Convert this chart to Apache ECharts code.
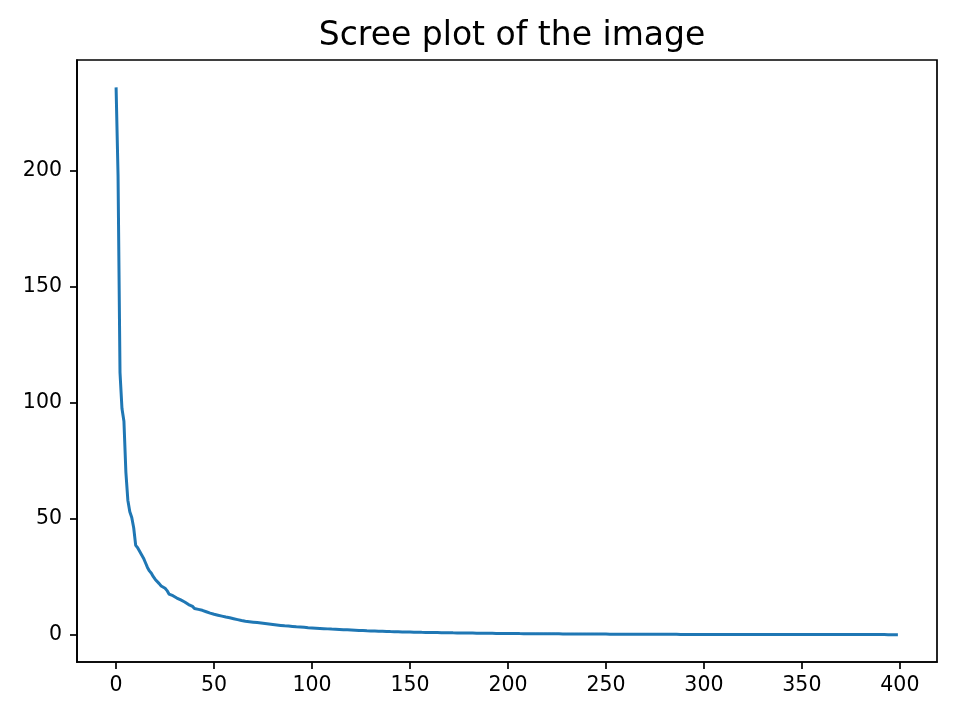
<!DOCTYPE html>
<html>
<head>
<meta charset="utf-8">
<script src="https://cdn.jsdelivr.net/npm/echarts@6/dist/echarts.min.js"></script>
<style>html,body{margin:0;padding:0;background:#fff}#c{width:960px;height:720px}</style>
</head>
<body>
<div id="c"></div>
<script>
const titleText = "Scree plot of the image";
const xTicks = [0, 50, 100, 150, 200, 250, 300, 350, 400];
const yTicks = [0, 50, 100, 150, 200];
const singularValues = [
236, 198, 113, 97.5, 92, 70, 58, 53, 50.5, 46,
38.5, 37.5, 36, 34.5, 33, 31, 29, 27.5, 26.5, 25,
23.8, 23, 22, 21, 20.5, 20, 19, 17.5, 17.2, 16.8,
16.2, 15.8, 15.4, 15, 14.6, 14.1, 13.6, 13, 12.6, 12.2,
11.3, 11.1, 10.9, 10.7, 10.5, 10.2, 9.9, 9.6, 9.3, 9.0,
8.8, 8.6, 8.4, 8.2, 8.0, 7.8, 7.6, 7.5, 7.3, 7.1,
6.9, 6.7, 6.5, 6.3, 6.1, 5.9, 5.8, 5.7, 5.6, 5.5,
5.4, 5.3, 5.2, 5.1, 5.0, 4.9, 4.8, 4.7, 4.6, 4.5,
4.4, 4.3, 4.2, 4.1, 4.0, 3.9, 3.8, 3.75, 3.7, 3.6,
3.55, 3.5, 3.4, 3.35, 3.3, 3.2, 3.15, 3.1, 3.0, 2.95,
2.9, 2.85, 2.8, 2.75, 2.7, 2.65, 2.6, 2.55, 2.5, 2.45,
2.4, 2.36, 2.32, 2.28, 2.24, 2.2, 2.16, 2.12, 2.08, 2.04,
2.0, 1.96, 1.92, 1.88, 1.84, 1.8, 1.76, 1.72, 1.68, 1.65,
1.62, 1.59, 1.56, 1.53, 1.5, 1.47, 1.44, 1.41, 1.38, 1.35,
1.32, 1.3, 1.28, 1.26, 1.24, 1.22, 1.2, 1.18, 1.16, 1.14,
1.12, 1.1, 1.08, 1.06, 1.05, 1.03, 1.01, 1.0, 0.98, 0.97,
0.95, 0.94, 0.92, 0.91, 0.89, 0.88, 0.86, 0.85, 0.84, 0.82,
0.81, 0.8, 0.78, 0.77, 0.76, 0.75, 0.73, 0.72, 0.71, 0.7,
0.69, 0.68, 0.67, 0.66, 0.65, 0.64, 0.63, 0.62, 0.61, 0.6,
0.59, 0.58, 0.57, 0.56, 0.55, 0.545, 0.54, 0.53, 0.52, 0.51,
0.5, 0.495, 0.49, 0.48, 0.475, 0.47, 0.46, 0.455, 0.45, 0.44,
0.435, 0.43, 0.42, 0.415, 0.41, 0.405, 0.4, 0.395, 0.39, 0.385,
0.38, 0.375, 0.37, 0.365, 0.36, 0.355, 0.35, 0.345, 0.34, 0.335,
0.33, 0.325, 0.32, 0.315, 0.31, 0.305, 0.3, 0.295, 0.29, 0.285,
0.28, 0.276, 0.272, 0.268, 0.264, 0.26, 0.256, 0.252, 0.248, 0.244,
0.24, 0.236, 0.232, 0.228, 0.224, 0.22, 0.216, 0.212, 0.208, 0.204,
0.2, 0.197, 0.194, 0.191, 0.188, 0.185, 0.182, 0.179, 0.176, 0.173,
0.17, 0.167, 0.164, 0.161, 0.158, 0.155, 0.152, 0.149, 0.146, 0.143,
0.14, 0.138, 0.136, 0.134, 0.132, 0.13, 0.128, 0.126, 0.124, 0.122,
0.12, 0.118, 0.116, 0.114, 0.112, 0.11, 0.108, 0.106, 0.104, 0.102,
0.1, 0.099, 0.097, 0.096, 0.094, 0.093, 0.091, 0.09, 0.088, 0.087,
0.085, 0.084, 0.083, 0.082, 0.081, 0.08, 0.079, 0.078, 0.077, 0.076,
0.075, 0.074, 0.073, 0.072, 0.071, 0.07, 0.069, 0.068, 0.067, 0.066,
0.065, 0.064, 0.063, 0.062, 0.061, 0.06, 0.059, 0.058, 0.057, 0.056,
0.055, 0.054, 0.054, 0.053, 0.052, 0.052, 0.051, 0.05, 0.05, 0.049,
0.048, 0.048, 0.047, 0.046, 0.046, 0.045, 0.044, 0.044, 0.043, 0.042,
0.042, 0.041, 0.04, 0.04, 0.039, 0.038, 0.038, 0.037, 0.036, 0.036,
0.035, 0.034, 0.034, 0.033, 0.032, 0.032, 0.031, 0.03, 0.03, 0.029,
0.028, 0.028, 0.027, 0.026, 0.026, 0.025, 0.024, 0.024, 0.023, 0.022,
0.022, 0.021, 0.02, 0.02, 0.019, 0.018, 0.018, 0.017, 0.016, 0.015
];

const n = singularValues.length;
const dataMax = Math.max(...singularValues);
const dataMin = Math.min(...singularValues);
const xPad = 0.05 * (n - 1);
const yPad = 0.05 * (dataMax - dataMin);

const chart = echarts.init(document.getElementById('c'), null, {renderer: 'canvas'});
const font = "DejaVu Sans";
chart.setOption({
  animation: false,
  backgroundColor: '#ffffff',
  title: {
    text: titleText,
    left: 507, top: 15, textAlign: 'center',
    textStyle: {fontFamily: font, fontSize: 33, fontWeight: 'normal', color: '#000'}
  },
  grid: {
    left: 77, right: 23, top: 60, bottom: 58,
    show: true, borderColor: '#000', borderWidth: 1.7, backgroundColor: 'transparent'
  },
  xAxis: {
    type: 'value',
    min: -xPad, max: (n - 1) + xPad,
    splitLine: {show: false},
    axisLine: {show: true, onZero: false, lineStyle: {color: '#000', width: 1.7}},
    axisTick: {show: true, length: 7, customValues: xTicks, lineStyle: {color: '#000', width: 1.7}},
    axisLabel: {customValues: xTicks, margin: 13, fontFamily: font, fontSize: 20.5, color: '#000'}
  },
  yAxis: {
    type: 'value',
    min: dataMin - yPad, max: dataMax + yPad,
    splitLine: {show: false},
    axisLine: {show: true, onZero: false, lineStyle: {color: '#000', width: 1.7}},
    axisTick: {show: true, length: 7, customValues: yTicks, lineStyle: {color: '#000', width: 1.7}},
    axisLabel: {customValues: yTicks, margin: 15, fontFamily: font, fontSize: 20.5, color: '#000'}
  },
  series: [{
    type: 'line',
    data: singularValues.map((v, i) => [i, v]),
    showSymbol: false,
    symbol: 'none',
    lineStyle: {color: '#1f77b4', width: 3},
    clip: true
  }]
});
</script>
</body>
</html>
